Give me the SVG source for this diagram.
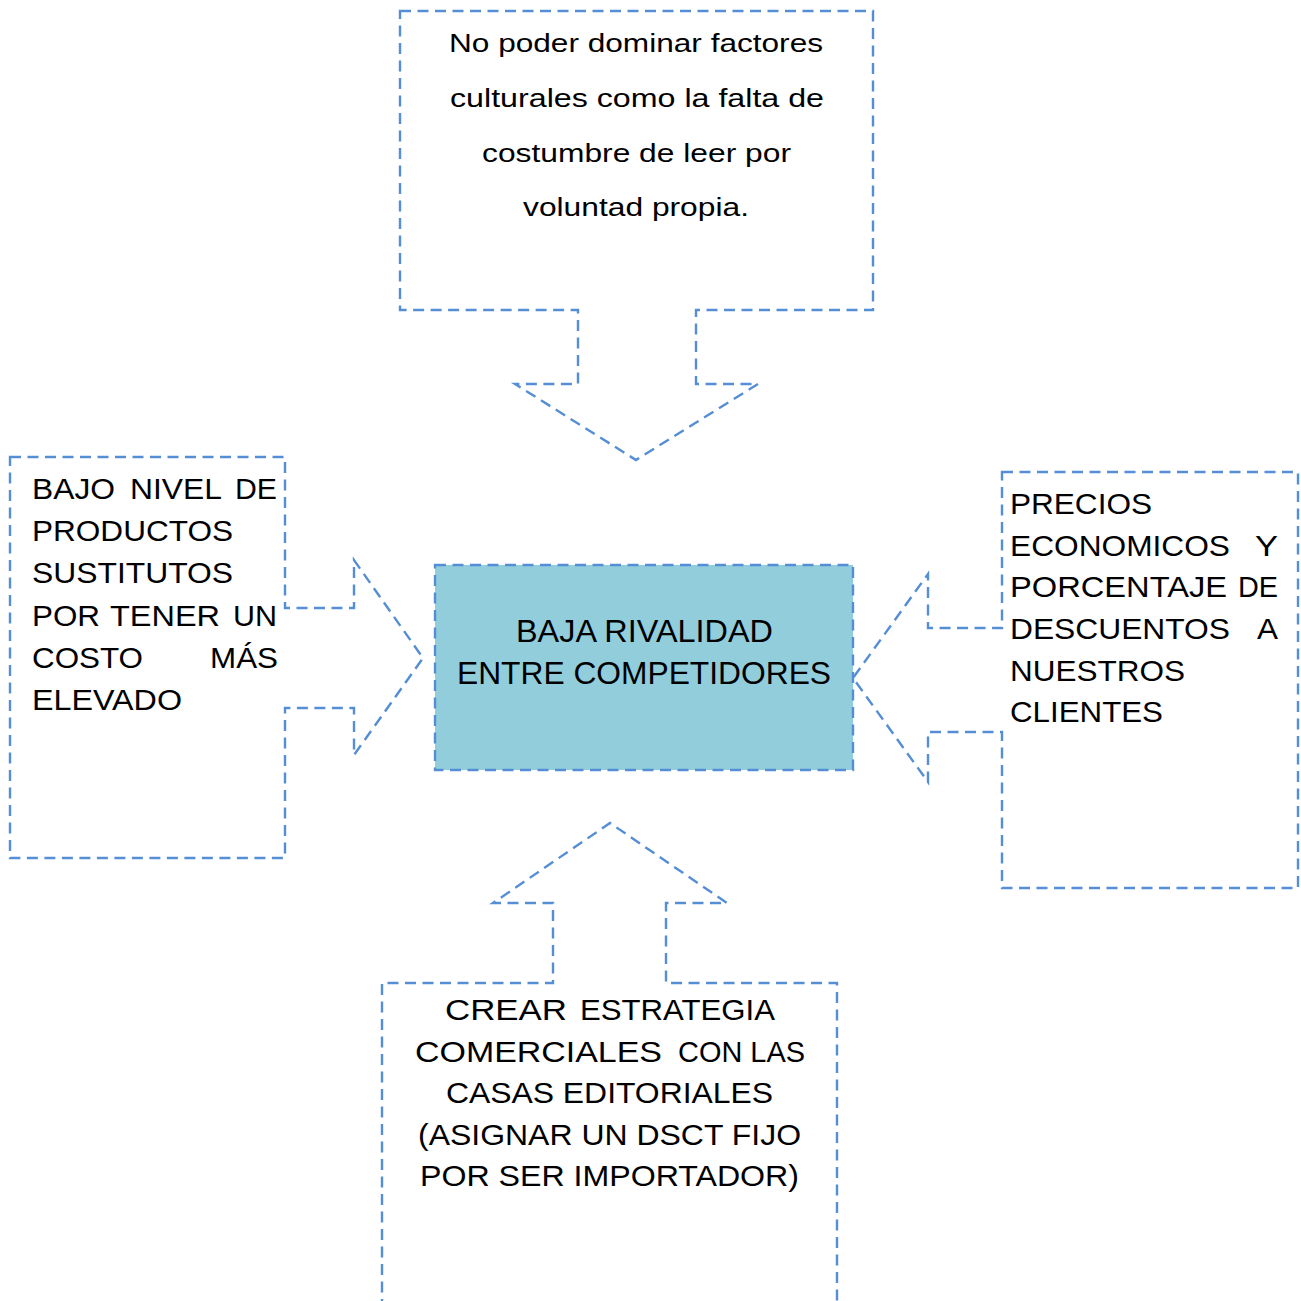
<svg xmlns="http://www.w3.org/2000/svg" width="1301" height="1301" viewBox="0 0 1301 1301">
<style>
.shape{fill:none;stroke:#558ED5;stroke-width:2.4;stroke-dasharray:11 6.5;stroke-linejoin:miter}
.core{fill:#92CDDC;stroke:#558ED5;stroke-width:2.4;stroke-dasharray:11 6.5}
text{font-family:"Liberation Sans",Arial,sans-serif;fill:#000}
.t25{font-size:26.5px}
.t29{font-size:30px}
.t30{font-size:30.5px}
</style>
<rect width="1301" height="1301" fill="#fff"/>
<g id="node-top">
<path class="shape" d="M400,11 H873 V310 H696 V384 H758 L636,460 L515,384 H578 V310 H400 Z"/>
<g class="t25">
<text x="449" y="52" textLength="374" lengthAdjust="spacingAndGlyphs">No poder dominar factores</text>
<text x="450" y="107" textLength="374" lengthAdjust="spacingAndGlyphs">culturales como la falta de</text>
<text x="482" y="162" textLength="309" lengthAdjust="spacingAndGlyphs">costumbre de leer por</text>
<text x="523" y="216" textLength="226" lengthAdjust="spacingAndGlyphs">voluntad propia.</text>
</g>
</g>
<g id="node-left">
<path class="shape" d="M10,457 H285 V608 H354 V560 L423,658 L354,755 V708 H285 V858 H10 Z"/>
<g class="t29">
<text x="32" y="499" textLength="83" lengthAdjust="spacingAndGlyphs">BAJO</text>
<text x="130" y="499" textLength="92" lengthAdjust="spacingAndGlyphs">NIVEL</text>
<text x="235" y="499" textLength="42" lengthAdjust="spacingAndGlyphs">DE</text>
<text x="32" y="541" textLength="201" lengthAdjust="spacingAndGlyphs">PRODUCTOS</text>
<text x="32" y="583" textLength="201" lengthAdjust="spacingAndGlyphs">SUSTITUTOS</text>
<text x="32" y="626" textLength="68" lengthAdjust="spacingAndGlyphs">POR</text>
<text x="110" y="626" textLength="110" lengthAdjust="spacingAndGlyphs">TENER</text>
<text x="233" y="626" textLength="44" lengthAdjust="spacingAndGlyphs">UN</text>
<text x="32" y="668" textLength="111" lengthAdjust="spacingAndGlyphs">COSTO</text>
<text x="210" y="668" textLength="68" lengthAdjust="spacingAndGlyphs">MÁS</text>
<text x="32" y="710" textLength="150" lengthAdjust="spacingAndGlyphs">ELEVADO</text>
</g>
</g>
<g id="node-right">
<path class="shape" d="M1002,472 H1298 V888 H1002 V732 H928 V782 L853,678 L928,574 V628 H1002 Z"/>
<g class="t29">
<text x="1010" y="514" textLength="142" lengthAdjust="spacingAndGlyphs">PRECIOS</text>
<text x="1010" y="556" textLength="220" lengthAdjust="spacingAndGlyphs">ECONOMICOS</text>
<text x="1255" y="556" textLength="23" lengthAdjust="spacingAndGlyphs">Y</text>
<text x="1010" y="597" textLength="217" lengthAdjust="spacingAndGlyphs">PORCENTAJE</text>
<text x="1238" y="597" textLength="40" lengthAdjust="spacingAndGlyphs">DE</text>
<text x="1010" y="639" textLength="220" lengthAdjust="spacingAndGlyphs">DESCUENTOS</text>
<text x="1257" y="639" textLength="21" lengthAdjust="spacingAndGlyphs">A</text>
<text x="1010" y="681" textLength="175" lengthAdjust="spacingAndGlyphs">NUESTROS</text>
<text x="1010" y="722" textLength="153" lengthAdjust="spacingAndGlyphs">CLIENTES</text>
</g>
</g>
<g id="node-bottom">
<path class="shape" d="M382,1310 V983 H553 V903 H493 L610,823 L727,903 H666 V983 H837 V1310"/>
<g class="t29">
<text x="445" y="1020" textLength="122" lengthAdjust="spacingAndGlyphs">CREAR</text>
<text x="580" y="1020" textLength="195" lengthAdjust="spacingAndGlyphs">ESTRATEGIA</text>
<text x="415" y="1062" textLength="247" lengthAdjust="spacingAndGlyphs">COMERCIALES</text>
<text x="678" y="1062" textLength="127" lengthAdjust="spacingAndGlyphs">CON LAS</text>
<text x="446" y="1103" textLength="327" lengthAdjust="spacingAndGlyphs">CASAS EDITORIALES</text>
<text x="418" y="1145" textLength="383" lengthAdjust="spacingAndGlyphs">(ASIGNAR UN DSCT FIJO</text>
<text x="420" y="1186" textLength="379" lengthAdjust="spacingAndGlyphs">POR SER IMPORTADOR)</text>
</g>
</g>
<g id="node-center">
<rect class="core" x="435" y="565" width="418" height="205"/>
<g class="t30">
<text x="516" y="642" textLength="257" lengthAdjust="spacingAndGlyphs">BAJA RIVALIDAD</text>
<text x="457" y="684" textLength="374" lengthAdjust="spacingAndGlyphs">ENTRE COMPETIDORES</text>
</g>
</g>
<g id="connectors"></g>
</svg>
